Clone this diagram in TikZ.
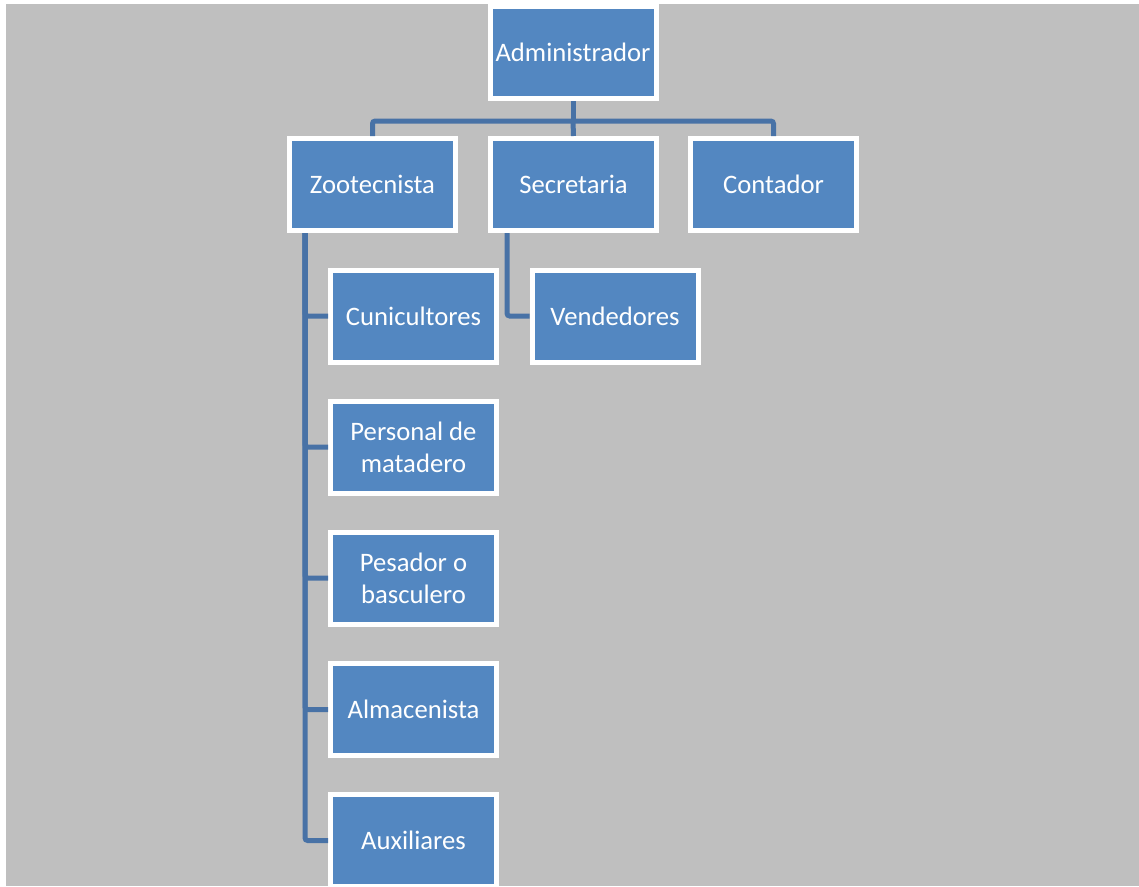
\documentclass[tikz,border=0pt]{standalone}
\usepackage{fontspec}
\setmainfont{Carlito}
\usetikzlibrary{shadows}
\definecolor{azulcaja}{RGB}{83,135,193}
\definecolor{azullinea}{RGB}{72,114,166}
\definecolor{fondo}{RGB}{191,191,191}
\tikzset{
  cargo/.style={rectangle, draw=white, line width=3.75pt, fill=azulcaja, text=white,
    minimum width=124.5pt, minimum height=69pt, align=center,
    font=\fontsize{20}{24}\selectfont,
    drop shadow={shadow xshift=0.6pt, shadow yshift=-0.6pt, opacity=0.35}},
  linea/.style={draw=azullinea, line width=3.75pt, rounded corners=2pt}
}
\begin{document}
\begin{tikzpicture}[x=0.75pt,y=-0.75pt]
    \clip (0,0) rectangle (1139,886);
    \fill[white] (0,0) rectangle (1139,886);
    \fill[fondo] (6,4) rectangle (1139,886);

    \node[cargo] (admin) at (573,52.5) {Administrador};

    \node[cargo] (zoo)   at (372.5,184.5) {Zootecnista};
    \node[cargo] (secre) at (573.5,184.5) {Secretaria};
    \node[cargo] (conta) at (773.5,184.5) {Contador};

    \node[cargo] (vende) at (615,316) {Vendedores};

    \node[cargo] (cuni)  at (413.5,316)   {Cunicultores};
    \node[cargo] (perso) at (413.5,447)   {Personal de\\matadero};
    \node[cargo] (pesa)  at (413.5,578)   {Pesador o\\basculero};
    \node[cargo] (alma)  at (413.5,709.5) {Almacenista};
    \node[cargo] (auxi)  at (413.5,840.5) {Auxiliares};

    \coordinate (bus) at (573,121);
    \draw[linea] (admin.south) -- (bus);
    \draw[linea] (zoo.north) |- (bus) -| (conta.north);
    \draw[linea] (bus) -- (secre.north);

    \coordinate (tronco) at ([xshift=13.5pt]zoo.south west);
    \foreach \hijo in {cuni,perso,pesa,alma,auxi}
        \draw[linea] (tronco) |- (\hijo.west);

    \draw[linea] ([xshift=14.25pt]secre.south west) |- (vende.west);
\end{tikzpicture}
\end{document}
